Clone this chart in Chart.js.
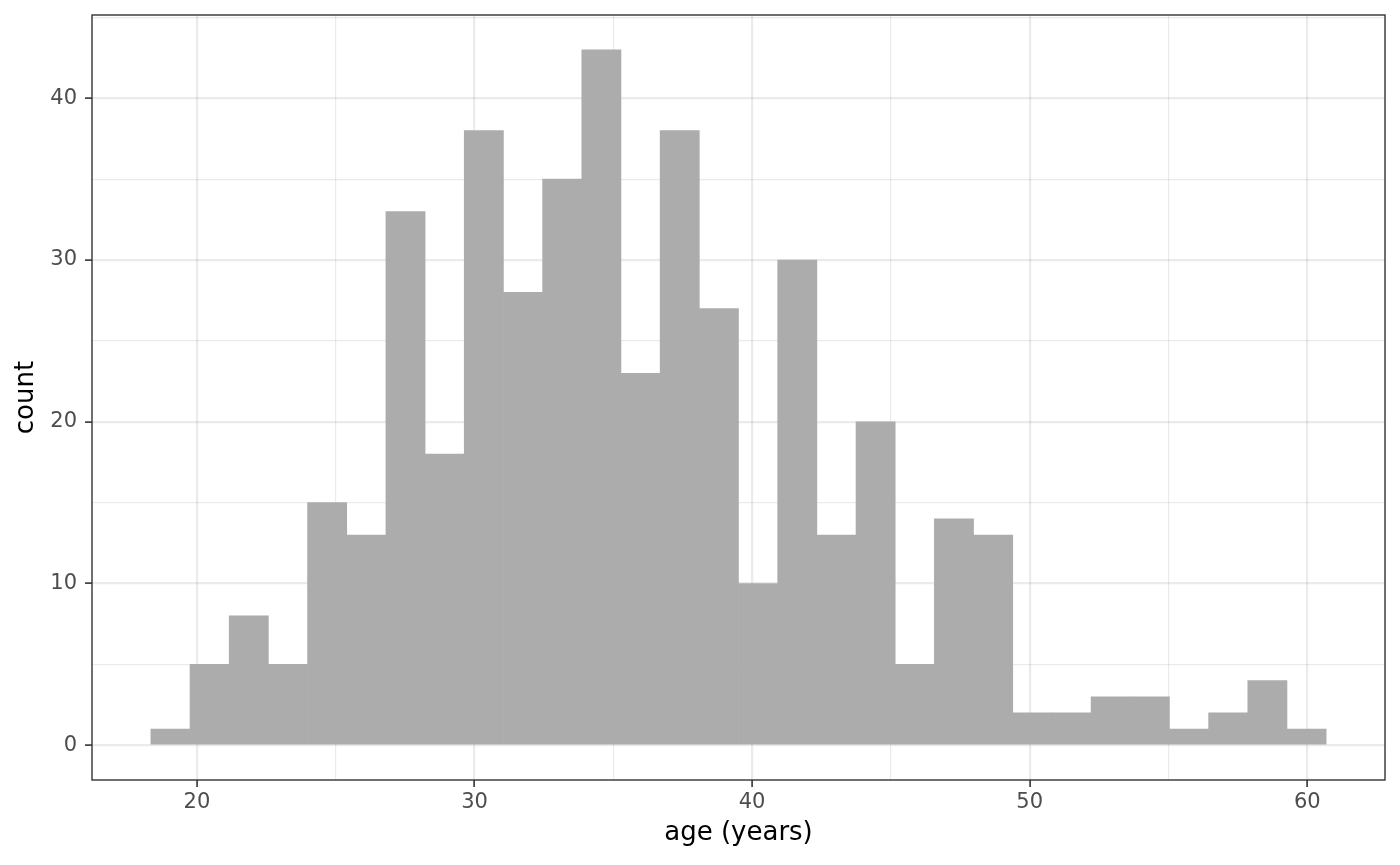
<!DOCTYPE html>
<html>
<head>
<meta charset="utf-8">
<script src="https://cdn.jsdelivr.net/npm/chart.js@4.4.1/dist/chart.umd.min.js"></script>
<style>
  html, body { margin: 0; padding: 0; background: #ffffff; }
</style>
</head>
<body>
<canvas id="myChart" width="1400" height="865"></canvas>
<script>
// bin midpoints (years) and counts per bin
var binMids = [19.046, 20.457, 21.868, 23.280, 24.691, 26.102, 27.514, 28.925, 30.336, 31.748,
               33.159, 34.570, 35.982, 37.393, 38.804, 40.216, 41.627, 43.038, 44.450, 45.861,
               47.272, 48.684, 50.095, 51.506, 52.918, 54.329, 55.740, 57.152, 58.563, 59.974];
var counts = [1, 5, 8, 5, 15, 13, 33, 18, 38, 28,
              35, 43, 23, 38, 27, 10, 30, 13, 20, 5,
              14, 13, 2, 2, 3, 3, 1, 2, 4, 1];

var xMajor = [20, 30, 40, 50, 60];
var xMinor = [25, 35, 45, 55];
var yMajor = [0, 10, 20, 30, 40];
var yMinor = [5, 15, 25, 35, 45];

var xLimits = [16.22, 62.80];
var yLimits = [-2.15, 45.15];

var points = binMids.map(function (m, i) { return { x: m, y: counts[i] }; });

function isMajor(list, v) { return list.indexOf(v) !== -1; }

function tickList(major, minor) {
  return major.concat(minor).sort(function (a, b) { return a - b; })
    .map(function (v) { return { value: v }; });
}

// panel border on all four sides
var framePlugin = {
  id: "frame",
  afterDraw: function (chart) {
    var a = chart.chartArea, ctx = chart.ctx;
    ctx.save();
    ctx.strokeStyle = "#333333";
    ctx.lineWidth = 1.4;
    ctx.strokeRect(a.left, a.top, a.right - a.left, a.bottom - a.top);
    ctx.restore();
  }
};

var tickFont = { family: "'DejaVu Sans'", size: 21 };
var titleFont = { family: "'DejaVu Sans'", size: 26 };
// grid drawn over the (opaque) bars, translucent so it reads as seen through them
var gridColor = "rgba(89,89,89,0.12)";

var config = {
  type: "bar",
  data: {
    datasets: [{
      data: points,
      backgroundColor: "#ACACAC",
      borderWidth: 0,
      barPercentage: 1,
      categoryPercentage: 1
    }]
  },
  options: {
    responsive: false,
    animation: false,
    layout: { padding: { top: 15, right: 15, left: 0, bottom: 0 } },
    plugins: { legend: { display: false }, tooltip: { enabled: false } },
    scales: {
      x: {
        type: "linear",
        min: xLimits[0],
        max: xLimits[1],
        offset: false,
        z: 1,
        afterBuildTicks: function (s) { s.ticks = tickList(xMajor, xMinor); },
        afterFit: function (s) { s.height = 85; s.paddingLeft = 0; s.paddingRight = 0; },
        border: { display: false },
        grid: {
          offset: false,
          color: gridColor,
          lineWidth: function (c) { return isMajor(xMajor, c.tick.value) ? 2.2 : 1.2; },
          tickColor: function (c) { return isMajor(xMajor, c.tick.value) ? "#333333" : "rgba(0,0,0,0)"; },
          tickWidth: 1.6,
          tickLength: 7,
          drawTicks: true
        },
        ticks: {
          autoSkip: false,
          maxRotation: 0,
          padding: 3,
          color: "#4D4D4D",
          font: tickFont,
          callback: function (v) { return isMajor(xMajor, v) ? String(v) : ""; }
        },
        title: {
          display: true,
          text: "age (years)",
          color: "#000000",
          font: titleFont,
          padding: { top: 0, bottom: 16 }
        }
      },
      y: {
        type: "linear",
        min: yLimits[0],
        max: yLimits[1],
        z: 1,
        afterBuildTicks: function (s) { s.ticks = tickList(yMajor, yMinor); },
        afterFit: function (s) { s.width = 92; s.paddingTop = 0; s.paddingBottom = 0; },
        border: { display: false },
        grid: {
          color: gridColor,
          lineWidth: function (c) { return isMajor(yMajor, c.tick.value) ? 2.2 : 1.2; },
          tickColor: function (c) { return isMajor(yMajor, c.tick.value) ? "#333333" : "rgba(0,0,0,0)"; },
          tickWidth: 1.6,
          tickLength: 7,
          drawTicks: true
        },
        ticks: {
          autoSkip: false,
          padding: 8,
          color: "#4D4D4D",
          font: tickFont,
          callback: function (v) { return isMajor(yMajor, v) ? String(v) : ""; }
        },
        title: {
          display: true,
          text: "count",
          color: "#000000",
          font: titleFont,
          padding: { top: 11, bottom: 0 }
        }
      }
    }
  },
  plugins: [framePlugin]
};

var myChart = new Chart(document.getElementById("myChart"), config);
</script>
</body>
</html>
